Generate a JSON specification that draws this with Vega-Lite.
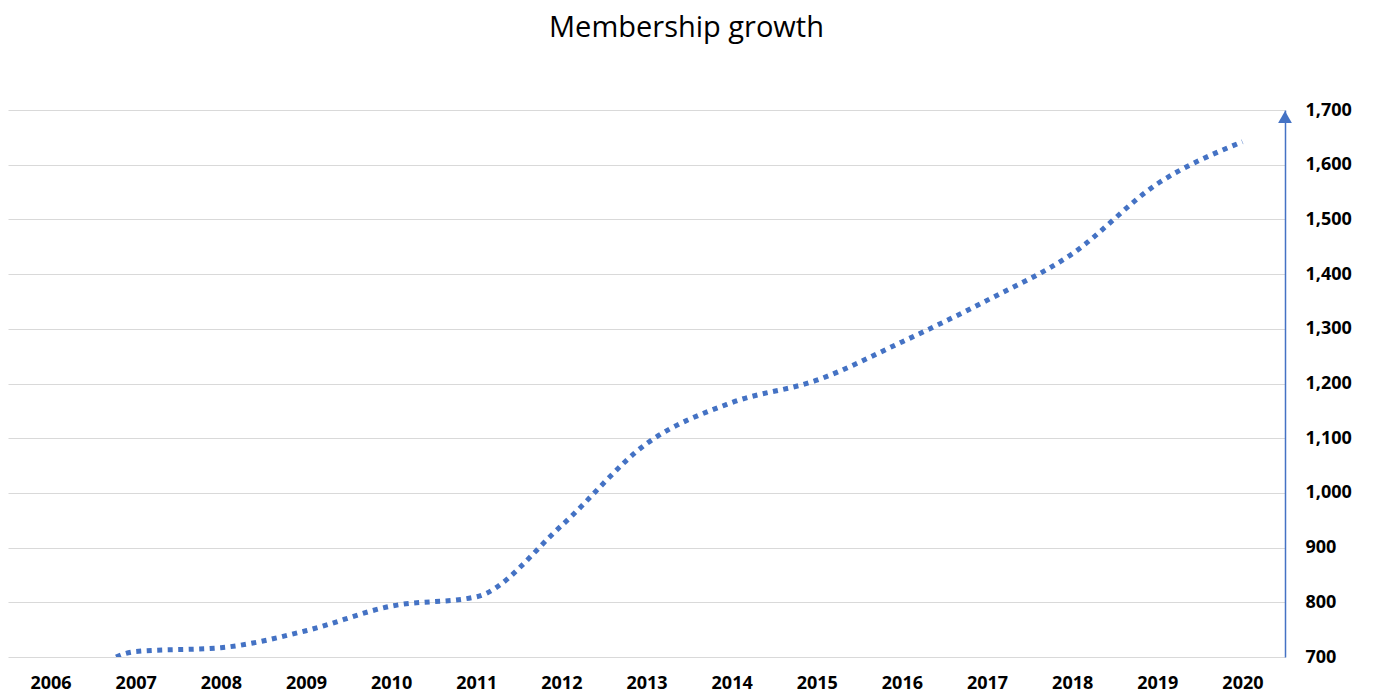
{
  "$schema": "https://vega.github.io/schema/vega-lite/v6.json",
  "width": 1277,
  "height": 547,
  "autosize": "none",
  "padding": {"left": 8, "top": 110, "right": 88, "bottom": 40},
  "background": "white",
  "title": {
    "text": "Membership growth",
    "font": "Open Sans",
    "fontSize": 29,
    "fontWeight": "normal",
    "color": "#000000",
    "anchor": "middle",
    "offset": 58,
    "dx": 40
  },
  "config": {"view": {"stroke": null}},
  "data": {
    "values": [
      {"year": "2006", "members": 605},
      {"year": "2007", "members": 710},
      {"year": "2008", "members": 717},
      {"year": "2009", "members": 748},
      {"year": "2010", "members": 793},
      {"year": "2011", "members": 810},
      {"year": "2012", "members": 940},
      {"year": "2013", "members": 1090},
      {"year": "2014", "members": 1165},
      {"year": "2015", "members": 1206},
      {"year": "2016", "members": 1276},
      {"year": "2017", "members": 1352},
      {"year": "2018", "members": 1437},
      {"year": "2019", "members": 1565},
      {"year": "2020", "members": 1642}
    ]
  },
  "layer": [
    {
      "mark": {
        "type": "line",
        "interpolate": "monotone",
        "clip": true,
        "color": "#4472C4",
        "strokeWidth": 5,
        "strokeDash": [5, 5.5]
      },
      "encoding": {
        "x": {
          "field": "year",
          "type": "ordinal",
          "sort": null,
          "scale": {"type": "point", "padding": 0.5},
          "axis": {
            "title": null,
            "labelAngle": 0,
            "domain": false,
            "ticks": false,
            "grid": false,
            "labelPadding": 17,
            "labelFont": "Open Sans",
            "labelFontWeight": "bold",
            "labelFontSize": 18,
            "labelColor": "#000000"
          }
        },
        "y": {
          "field": "members",
          "type": "quantitative",
          "scale": {"domain": [700, 1700], "nice": false, "zero": false},
          "axis": {
            "orient": "right",
            "title": null,
            "values": [700, 800, 900, 1000, 1100, 1200, 1300, 1400, 1500, 1600, 1700],
            "format": ",.0f",
            "grid": true,
            "gridColor": "#d9d9d9",
            "gridWidth": 1.2,
            "domain": true,
            "domainColor": "#4472C4",
            "domainWidth": 1.5,
            "ticks": false,
            "labelPadding": 20,
            "labelAlign": "left",
            "labelFont": "Open Sans",
            "labelFontWeight": "bold",
            "labelFontSize": 18,
            "labelColor": "#000000"
          }
        }
      }
    },
    {
      "data": {"values": [{"top": 1700}]},
      "mark": {
        "type": "point",
        "shape": "triangle-up",
        "filled": true,
        "size": 190,
        "opacity": 1,
        "color": "#4472C4",
        "yOffset": 7
      },
      "encoding": {
        "x": {"value": "width"},
        "y": {"field": "top", "type": "quantitative"}
      }
    }
  ]
}
